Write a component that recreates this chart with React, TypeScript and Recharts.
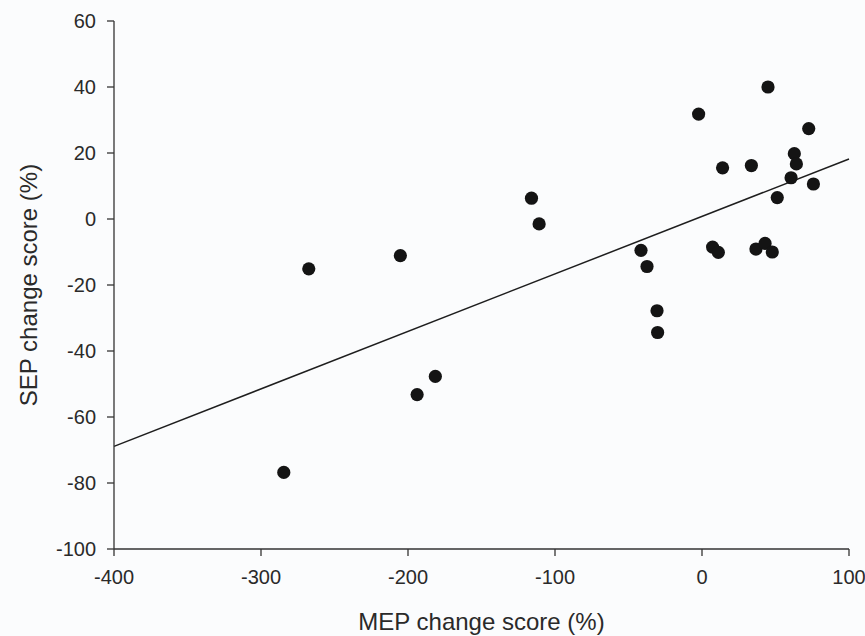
import React from 'react';
import { ScatterChart, Scatter, XAxis, YAxis, ReferenceLine, Label } from 'recharts';

const mepChange = [-284.5, -267.5, -205.2, -193.8, -181.4, -116, -110.8, -41.5, -37.4, -30.6, -30.2, -2.3, 7.2, 11.1, 14.0, 33.6, 36.7, 42.9, 44.9, 47.8, 51.2, 60.6, 62.8, 64.2, 72.6, 75.8];
const sepChange = [-76.8, -15.1, -11.1, -53.2, -47.7, 6.3, -1.5, -9.5, -14.4, -27.8, -34.4, 31.8, -8.5, -10.1, 15.5, 16.2, -9.1, -7.4, 40.0, -10.0, 6.5, 12.5, 19.8, 16.7, 27.4, 10.6];

const fitLineX = [-400, 100];
const fitLineY = [-68.9, 18.2];

const xTicks = [-400, -300, -200, -100, 0, 100];
const yTicks = [-100, -80, -60, -40, -20, 0, 20, 40, 60];

const xTitle = 'MEP change score (%)';
const yTitle = 'SEP change score (%)';

const points = mepChange.map((x, i) => ({ x, y: sepChange[i] }));
const fitSegment = fitLineX.map((x, i) => ({ x, y: fitLineY[i] }));

const FONT = '"Liberation Sans", Arial, sans-serif';
const AXIS_COLOR = '#333';
const TEXT_COLOR = '#2a2a2a';

const Dot = (props: any) => {
  const { cx, cy } = props;
  if (cx == null || cy == null) return null;
  return <circle cx={cx} cy={cy} r={6.6} fill="#141414" />;
};

const YTitle = (props: any) => {
  const vb = props.viewBox || {};
  const cx = (vb.x ?? 0) + 37;
  const cy = (vb.y ?? 0) + (vb.height ?? 0) / 2;
  return (
    <text
      x={cx}
      y={cy}
      transform={`rotate(-90, ${cx}, ${cy})`}
      textAnchor="middle"
      fill={TEXT_COLOR}
      fontSize={24}
      fontFamily={FONT}
    >
      {yTitle}
    </text>
  );
};

const XTitle = (props: any) => {
  const vb = props.viewBox || {};
  const cx = (vb.x ?? 0) + (vb.width ?? 0) / 2;
  const cy = (vb.y ?? 0) + (vb.height ?? 0) - 6;
  return (
    <text x={cx} y={cy} textAnchor="middle" fill={TEXT_COLOR} fontSize={24} fontFamily={FONT}>
      {xTitle}
    </text>
  );
};

export default function App() {
  return (
    <div
      style={{
        position: 'absolute',
        left: 0,
        top: 0,
        width: 865,
        height: 636,
        background: '#fbfcfd',
        fontFamily: FONT,
      }}
    >
      <ScatterChart width={865} height={636} margin={{ top: 21, right: 16, bottom: 0, left: 0 }}>
        <XAxis
          type="number"
          dataKey="x"
          domain={[-400, 100]}
          ticks={xTicks}
          interval={0}
          allowDataOverflow
          height={87}
          tickSize={7}
          tickMargin={14}
          stroke={AXIS_COLOR}
          strokeWidth={1.3}
          tick={{ fill: TEXT_COLOR, fontSize: 20, fontFamily: FONT }}
          tickLine={{ stroke: AXIS_COLOR }}
        >
          <Label content={<XTitle />} />
        </XAxis>
        <YAxis
          type="number"
          dataKey="y"
          domain={[-100, 60]}
          ticks={yTicks}
          interval={0}
          allowDataOverflow
          width={114}
          tickSize={7}
          tickMargin={11}
          stroke={AXIS_COLOR}
          strokeWidth={1.3}
          tick={{ fill: TEXT_COLOR, fontSize: 20, fontFamily: FONT }}
          tickLine={{ stroke: AXIS_COLOR }}
        >
          <Label content={<YTitle />} />
        </YAxis>
        <ReferenceLine
          segment={fitSegment}
          stroke="#1e1e1e"
          strokeWidth={1.5}
          ifOverflow="visible"
        />
        <Scatter data={points} shape={<Dot />} isAnimationActive={false} />
      </ScatterChart>
    </div>
  );
}
